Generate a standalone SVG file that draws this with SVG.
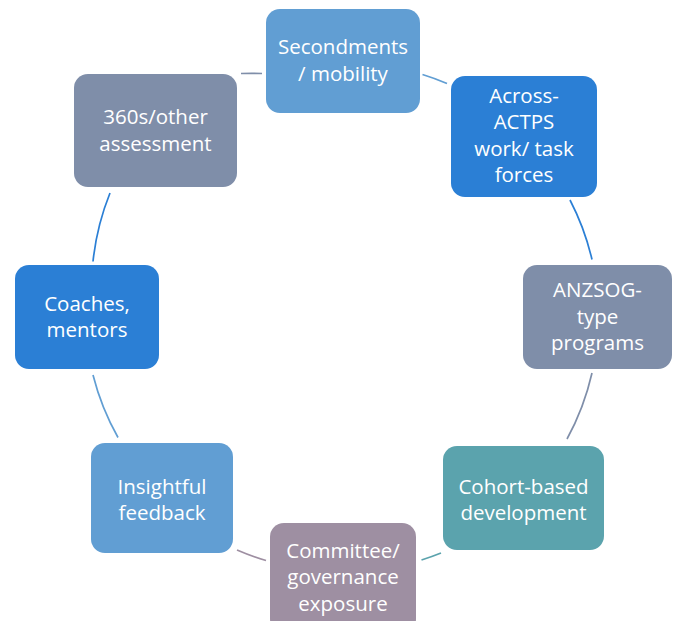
<svg xmlns="http://www.w3.org/2000/svg" width="676" height="621" viewBox="0 0 676 621">
<style>
.n rect{rx:14px;ry:14px}
.n text{font-family:"Open Sans","Liberation Sans",sans-serif;font-size:20.5px;fill:#ffffff;text-anchor:middle}
.c path{fill:none;stroke-width:1.7;stroke-linecap:butt}
.lb{fill:#619ed3}.db{fill:#2b7fd5}.gb{fill:#7f8ea9}.tl{fill:#5ba3ad}.mv{fill:#9e8fa2}
</style>
<rect width="676" height="621" fill="#ffffff"/>
<g id="connectors" class="c">
<path d="M241,73.5 A255,255 0 0 1 262,73.5" stroke="#7f8ea9"/>
<path d="M422.5,74.5 A255,255 0 0 1 447,83.5" stroke="#619ed3"/>
<path d="M570,200 A255,255 0 0 1 592,259.5" stroke="#2b7fd5"/>
<path d="M592,373 A255,255 0 0 1 567,439" stroke="#7f8ea9"/>
<path d="M441,553 A255,255 0 0 1 421.5,560" stroke="#5ba3ad"/>
<path d="M266,560.5 A255,255 0 0 1 237,550" stroke="#9e8fa2"/>
<path d="M118,437.5 A255,255 0 0 1 93,375" stroke="#619ed3"/>
<path d="M93,261.5 A255,255 0 0 1 110,193" stroke="#2b7fd5"/>
</g>
<g id="secondments" class="n"><rect class="lb" x="266" y="9" width="154" height="104"/><text x="343" y="54">Secondments</text><text x="343" y="81">/ mobility</text></g>
<g id="across" class="n"><rect class="db" x="451" y="76" width="146" height="121"/><text x="524" y="103">Across-</text><text x="524" y="129">ACTPS</text><text x="524" y="156">work/ task</text><text x="524" y="182">forces</text></g>
<g id="anzsog" class="n"><rect class="gb" x="523" y="265" width="149" height="104"/><text x="597.5" y="297">ANZSOG-</text><text x="597.5" y="323.5">type</text><text x="597.5" y="350">programs</text></g>
<g id="cohort" class="n"><rect class="tl" x="443" y="446" width="161" height="104"/><text x="523.5" y="494">Cohort-based</text><text x="523.5" y="520">development</text></g>
<g id="committee" class="n"><rect class="mv" x="270" y="523" width="146" height="110"/><text x="343" y="557.5">Committee/</text><text x="343" y="584">governance</text><text x="343" y="610.5">exposure</text></g>
<g id="insightful" class="n"><rect class="lb" x="91" y="443" width="142" height="110"/><text x="162" y="494">Insightful</text><text x="162" y="520">feedback</text></g>
<g id="coaches" class="n"><rect class="db" x="15" y="265" width="144" height="104"/><text x="87" y="310.5">Coaches,</text><text x="87" y="336.5">mentors</text></g>
<g id="assessment" class="n"><rect class="gb" x="74" y="74" width="163" height="113"/><text x="155.5" y="124">360s/other</text><text x="155.5" y="150.5">assessment</text></g>
</svg>
